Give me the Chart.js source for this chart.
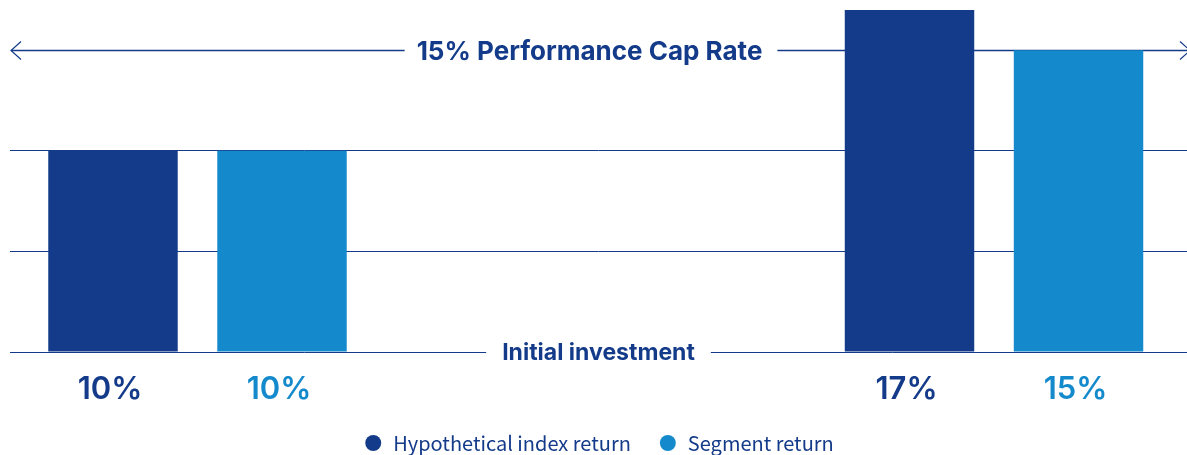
<!DOCTYPE html>
<html>
<head>
<meta charset="utf-8">
<script src="https://cdn.jsdelivr.net/npm/chart.js@4/dist/chart.umd.min.js"></script>
<style>
html, body { margin: 0; padding: 0; background: #fff; }
</style>
</head>
<body>
<canvas id="capChart" width="1187" height="455"></canvas>
<script>
// data
var groups = [0, 1]
var seriesNames = ['Hypothetical index return', 'Segment return']
var indexReturn = [10, 17]
var segmentReturn = [10, 15]
var gridValues = [0, 5, 10]
var capRate = 15
var capLabel = '15% Performance Cap Rate'
var baseLabel = 'Initial investment'

var navy = '#143b8a'
var sky = '#148acc'
var xMin = -0.2354
var xMax = 1.2423

function toPoints(values){
    return groups.map(function(g, i){ return {x: g, y: values[i]} })
}

// cap arrow, base label and value labels under the bars
var annotations = {
    id: 'annotations',
    beforeDatasetsDraw: function(chart){
        var ctx = chart.ctx
        var area = chart.chartArea
        var y = chart.scales.y
        var yCap = Math.round(y.getPixelForValue(capRate)) + 0.5
        var cx = (area.left + area.right) / 2

        ctx.save()
        ctx.font = '700 26px Inter'
        var w = ctx.measureText(capLabel).width
        var capX = cx - 9
        ctx.strokeStyle = navy
        ctx.lineWidth = 1.5
        ctx.beginPath()
        ctx.moveTo(area.left + 1, yCap)
        ctx.lineTo(capX - w / 2 - 12, yCap)
        ctx.moveTo(capX + w / 2 + 15, yCap)
        ctx.lineTo(area.right, yCap)
        ctx.stroke()

        ctx.lineWidth = 1.2
        ctx.beginPath()
        ctx.moveTo(area.left + 11, yCap - 9)
        ctx.lineTo(area.left + 1, yCap)
        ctx.lineTo(area.left + 11, yCap + 9)
        ctx.moveTo(area.right - 7, yCap - 9)
        ctx.lineTo(area.right + 3, yCap)
        ctx.lineTo(area.right - 7, yCap + 9)
        ctx.stroke()

        ctx.fillStyle = navy
        ctx.textAlign = 'center'
        ctx.textBaseline = 'alphabetic'
        ctx.fillText(capLabel, capX, yCap + 9.5)

        // gap in the zero line for the base label
        var yBase = y.getPixelForValue(0)
        ctx.font = '700 23px Inter'
        var bw = ctx.measureText(baseLabel).width
        ctx.fillStyle = '#ffffff'
        ctx.fillRect(cx - bw / 2 - 16, yBase - 4, bw + 32, 8)
        ctx.fillStyle = navy
        ctx.fillText(baseLabel, cx, yBase + 8)
        ctx.restore()
    },
    afterDatasetsDraw: function(chart){
        var ctx = chart.ctx
        var area = chart.chartArea
        ctx.save()
        ctx.font = '600 31px Inter'
        ctx.textAlign = 'center'
        ctx.textBaseline = 'alphabetic'
        chart.data.datasets.forEach(function(ds, di){
            var meta = chart.getDatasetMeta(di)
            meta.data.forEach(function(bar, i){
                ctx.fillStyle = ds.backgroundColor
                ctx.fillText(ds.data[i].y + '%', bar.x - 3, area.bottom + 47)
            })
        })
        ctx.restore()
    }
}

var canvas = document.querySelector('#capChart')

var indexData = {
    label: seriesNames[0],
    data: toPoints(indexReturn),
    backgroundColor: navy,
    borderWidth: 0
}

var segmentData = {
    label: seriesNames[1],
    data: toPoints(segmentReturn),
    backgroundColor: sky,
    borderWidth: 0
}

var capChart = new Chart(canvas, {
    type: 'bar',
    data: {
        datasets: [indexData, segmentData]
    },
    options: {
        responsive: false,
        animation: false,
        categoryPercentage: 0.4244,
        barPercentage: 0.766,
        layout: { padding: { left: 10, right: 0, top: 0, bottom: -8 } },
        scales: {
            x: {
                type: 'linear',
                bounds: 'data',
                offset: false,
                min: xMin,
                max: xMax,
                grid: { display: false },
                border: { display: false },
                ticks: { display: false },
                afterBuildTicks: function(s){
                    s.ticks = groups.map(function(v){ return {value: v} })
                    s.min = xMin
                    s.max = xMax
                },
                afterFit: function(s){ s.height = 54 }
            },
            y: {
                min: 0,
                max: 17.5,
                grid: { color: navy, lineWidth: 1, drawTicks: false },
                border: { display: false },
                ticks: { display: false },
                afterBuildTicks: function(s){ s.ticks = gridValues.map(function(v){ return {value: v} }) },
                afterFit: function(s){ s.width = 0 }
            }
        },
        plugins: {
            tooltip: { enabled: false },
            legend: {
                position: 'bottom',
                labels: {
                    usePointStyle: true,
                    pointStyle: 'circle',
                    boxWidth: 20,
                    boxHeight: 11.3,
                    padding: 27,
                    color: navy,
                    font: { family: "'Noto Sans CJK JP', 'Noto Sans', sans-serif", size: 20 }
                }
            }
        }
    },
    plugins: [annotations]
})
</script>
</body>
</html>
